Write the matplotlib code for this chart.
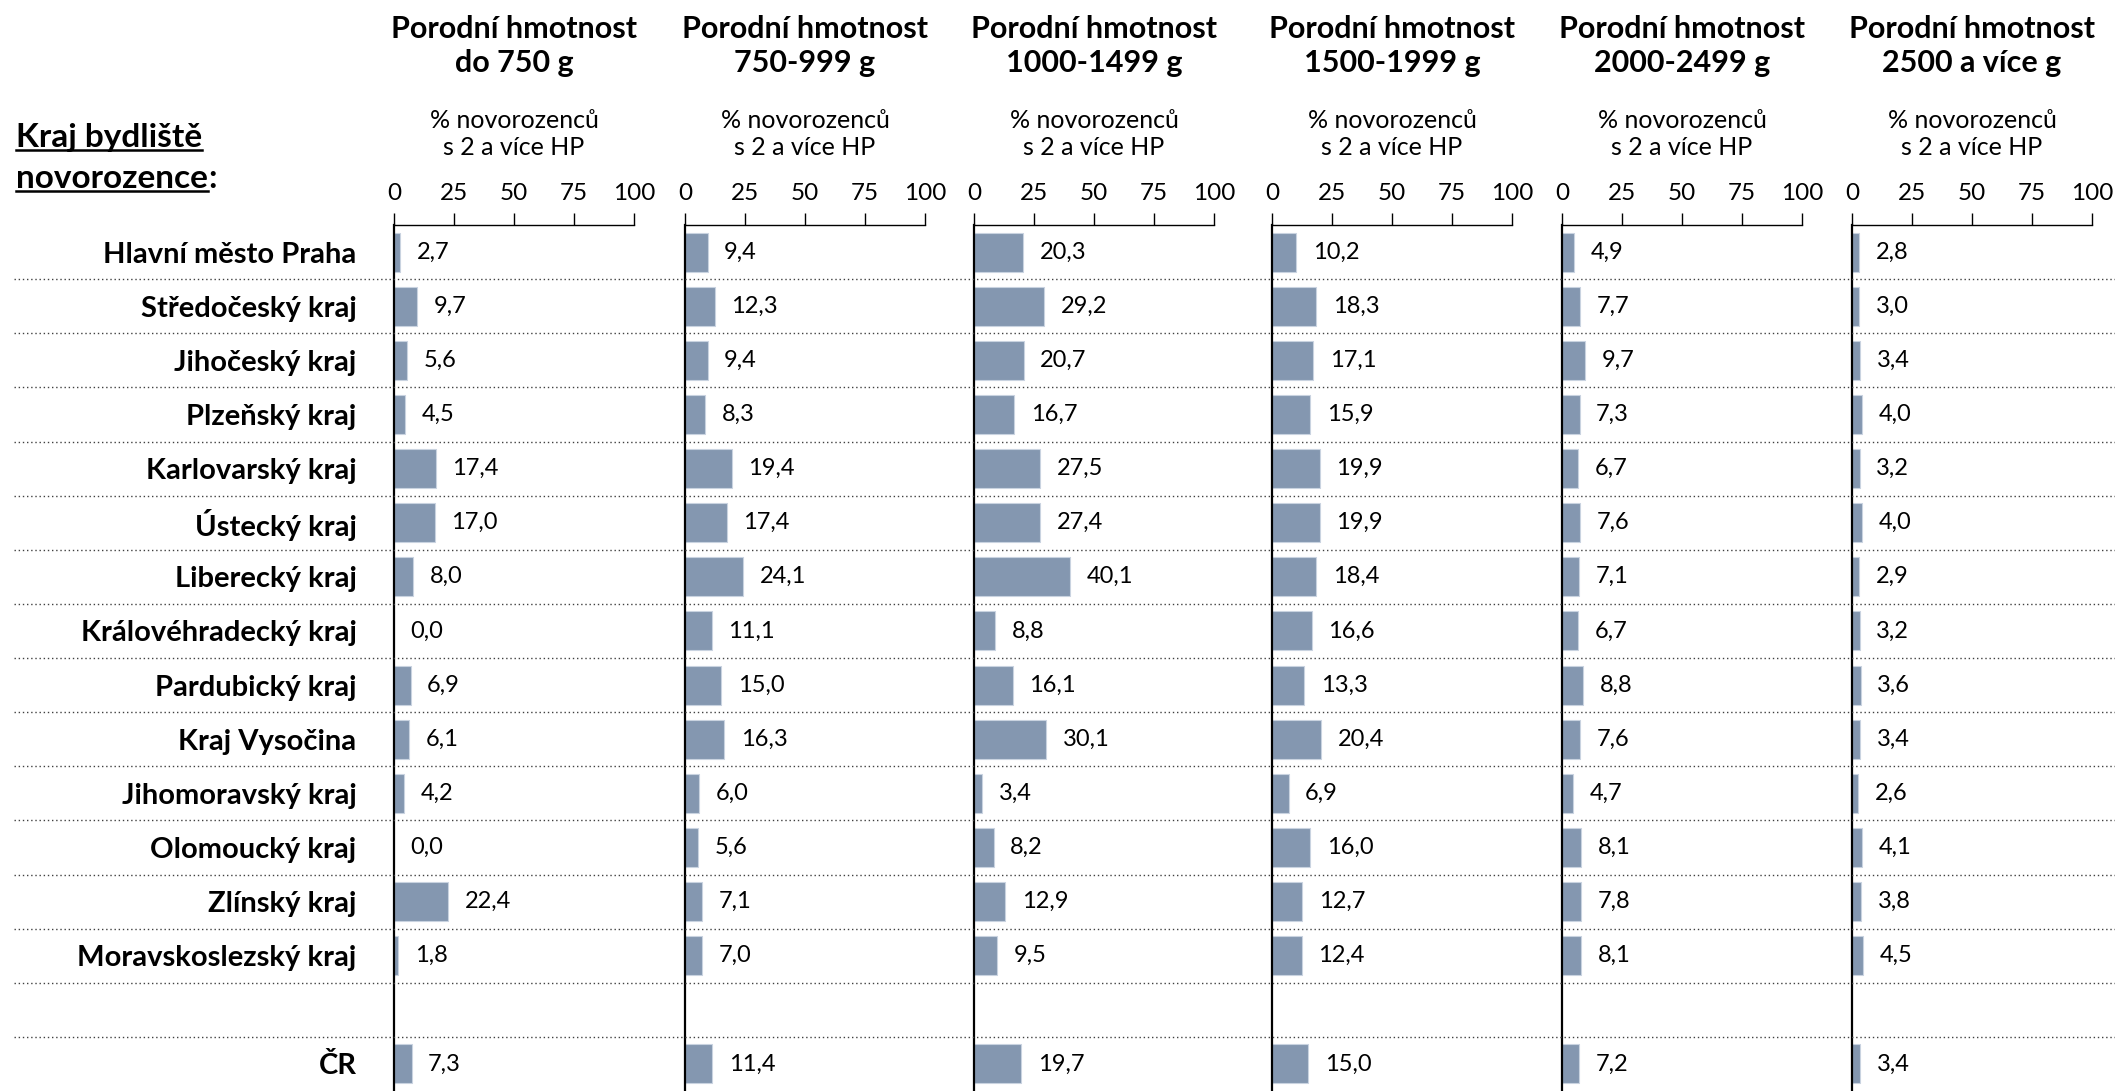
import numpy as np
import matplotlib
matplotlib.use('Agg')
import matplotlib.pyplot as plt
from matplotlib.lines import Line2D

plt.rcParams['font.family'] = ['Lato', 'DejaVu Sans']

# data
regions = ['Hlavní město Praha', 'Středočeský kraj', 'Jihočeský kraj', 'Plzeňský kraj',
           'Karlovarský kraj', 'Ústecký kraj', 'Liberecký kraj', 'Královéhradecký kraj',
           'Pardubický kraj', 'Kraj Vysočina', 'Jihomoravský kraj', 'Olomoucký kraj',
           'Zlínský kraj', 'Moravskoslezský kraj', '', 'ČR']

panel_titles = ['Porodní hmotnost\ndo 750 g', 'Porodní hmotnost\n750-999 g',
                'Porodní hmotnost\n1000-1499 g', 'Porodní hmotnost\n1500-1999 g',
                'Porodní hmotnost\n2000-2499 g', 'Porodní hmotnost\n2500 a více g']

w_do750 = [2.7, 9.7, 5.6, 4.5, 17.4, 17.0, 8.0, 0.0, 6.9, 6.1, 4.2, 0.0, 22.4, 1.8, None, 7.3]
w_750_999 = [9.4, 12.3, 9.4, 8.3, 19.4, 17.4, 24.1, 11.1, 15.0, 16.3, 6.0, 5.6, 7.1, 7.0, None, 11.4]
w_1000_1499 = [20.3, 29.2, 20.7, 16.7, 27.5, 27.4, 40.1, 8.8, 16.1, 30.1, 3.4, 8.2, 12.9, 9.5, None, 19.7]
w_1500_1999 = [10.2, 18.3, 17.1, 15.9, 19.9, 19.9, 18.4, 16.6, 13.3, 20.4, 6.9, 16.0, 12.7, 12.4, None, 15.0]
w_2000_2499 = [4.9, 7.7, 9.7, 7.3, 6.7, 7.6, 7.1, 6.7, 8.8, 7.6, 4.7, 8.1, 7.8, 8.1, None, 7.2]
w_2500 = [2.8, 3.0, 3.4, 4.0, 3.2, 4.0, 2.9, 3.2, 3.6, 3.4, 2.6, 4.1, 3.8, 4.5, None, 3.4]

series = [w_do750, w_750_999, w_1000_1499, w_1500_1999, w_2000_2499, w_2500]
ticks = [0, 25, 50, 75, 100]
subtitle = '% novorozenců\ns 2 a více HP'

W, H = 2115, 1091
fig = plt.figure(figsize=(W / 100, H / 100), dpi=100)

BAR = '#8497B0'
n = len(regions)
y = np.arange(n)

ax_top = 225
ax_h = H - ax_top
lefts = [394, 685, 974, 1272, 1562, 1852]   # panel left edges in px
width = 240

for i, vals in enumerate(series):
    ax = fig.add_axes([lefts[i] / W, 0, width / W, ax_h / H])
    idx = [k for k in range(n) if vals[k] is not None]
    v = [vals[k] for k in idx]
    ax.barh(idx, v, height=0.72, color=BAR, edgecolor='#c9d3e0', linewidth=0.8)
    for k, val in zip(idx, v):
        ax.annotate(('%.1f' % val).replace('.', ','), (val, k), xytext=(12, 0),
                    textcoords='offset points', va='center', ha='left', fontsize=17)
    ax.set_xlim(0, 100)
    ax.set_ylim(n - 0.5, -0.5)
    ax.xaxis.tick_top()
    ax.set_xticks(ticks)
    ax.tick_params(axis='x', direction='out', length=9, width=1, pad=6, labelsize=17.5)
    for s in ['right', 'bottom']:
        ax.spines[s].set_visible(False)
    ax.spines['top'].set_linewidth(1.0)
    ax.spines['left'].set_linewidth(1.6)
    if i == 0:
        ax.set_yticks(y)
        ax.set_yticklabels(regions, fontsize=21, fontweight='bold')
        ax.tick_params(axis='y', length=0, pad=27)
    else:
        ax.set_yticks([])
    ax.patch.set_alpha(0)
    cx = (lefts[i] + width / 2) / W
    fig.text(cx, 1 - 46 / H, panel_titles[i], ha='center', va='center',
             fontsize=22, fontweight='bold', linespacing=1.3)
    fig.text(cx, 1 - 134 / H, subtitle, ha='center', va='center',
             fontsize=18, linespacing=1.2)

# dotted row separators
row_h = ax_h / n
for k in range(1, n):
    yy = 1 - (ax_top + row_h * k) / H
    fig.add_artist(Line2D([14 / W, 1], [yy, yy], color='#404040', lw=1.0,
                          linestyle=(0, (1, 2)), transform=fig.transFigure))

# header label (underlined)
t1 = fig.text(16 / W, 1 - 137 / H, 'Kraj bydliště', ha='left', va='center',
              fontsize=24, fontweight='bold')
t2 = fig.text(16 / W, 1 - 179 / H, 'novorozence', ha='left', va='center',
              fontsize=24, fontweight='bold')
r = fig.canvas.get_renderer()
for t in [t1, t2]:
    bb = t.get_window_extent(r)
    yl = (bb.y0 + 2) / H
    fig.add_artist(Line2D([bb.x0 / W, bb.x1 / W], [yl, yl], color='black', lw=1.8,
                          transform=fig.transFigure))
bb = t2.get_window_extent(r)
fig.text(bb.x1 / W, 1 - 179 / H, ':', ha='left', va='center', fontsize=24, fontweight='bold')

fig.savefig('out.png', dpi=100)
